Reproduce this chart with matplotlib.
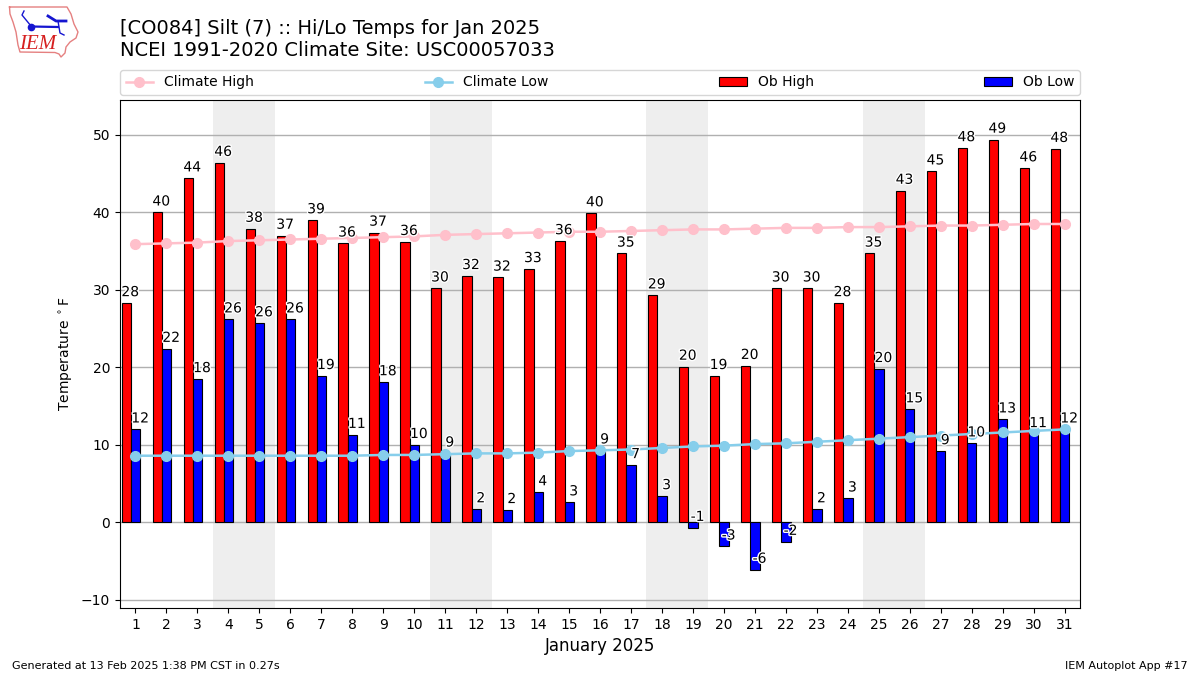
import matplotlib
matplotlib.use("Agg")
import matplotlib.pyplot as plt
import matplotlib.patheffects as pe

days = list(range(1, 32))
ob_high = [28.3, 40.0, 44.4, 46.4, 37.9, 37.0, 39.0, 36.0, 37.4, 36.2, 30.2,
           31.8, 31.6, 32.7, 36.3, 39.9, 34.7, 29.3, 20.1, 18.9, 20.2, 30.2,
           30.2, 28.3, 34.7, 42.8, 45.3, 48.3, 49.4, 45.7, 48.2]
ob_low = [12.0, 22.4, 18.5, 26.2, 25.7, 26.2, 18.9, 11.3, 18.1, 10.0, 8.9,
          1.7, 1.6, 3.9, 2.6, 9.3, 7.4, 3.4, -0.7, -3.1, -6.1, -2.5,
          1.7, 3.1, 19.8, 14.6, 9.2, 10.2, 13.3, 11.4, 12.0]
climate_high = [35.9, 36.0, 36.1, 36.3, 36.4, 36.5, 36.6, 36.7, 36.8, 36.9, 37.1,
                37.2, 37.3, 37.4, 37.5, 37.5, 37.6, 37.7, 37.8, 37.8, 37.9, 38.0,
                38.0, 38.1, 38.1, 38.2, 38.3, 38.3, 38.4, 38.5, 38.5]
climate_low = [8.6, 8.6, 8.6, 8.6, 8.6, 8.6, 8.6, 8.6, 8.7, 8.7, 8.8,
               8.9, 8.9, 9.0, 9.2, 9.3, 9.4, 9.6, 9.8, 9.9, 10.1, 10.2,
               10.4, 10.6, 10.8, 11.0, 11.2, 11.4, 11.6, 11.8, 12.0]
weekends = [4, 11, 18, 25]

W, H = 1200, 675
fig = plt.figure(figsize=(12, 6.75), dpi=100)
ax = fig.add_axes([120 / W, 1 - 608 / H, 960 / W, 508 / H])

for d in weekends:
    ax.axvspan(d - 0.5, d + 1.5, color="#eeeeee", zorder=0, lw=0)

ax.grid(True, axis="y", color="#b0b0b0", lw=1, zorder=1)
ax.set_axisbelow(True)

width = 0.3
red_x = [d - 0.445 for d in days]
blue_x = [d - 0.145 for d in days]
ax.bar(red_x, ob_high, width=width, align="edge", color="r", edgecolor="k",
       lw=0.8, label="Ob High", zorder=2)
ax.bar(blue_x, ob_low, width=width, align="edge", color="b", edgecolor="k",
       lw=0.8, label="Ob Low", zorder=2)
ax.plot(days, climate_high, color="pink", marker="o", ms=7, lw=1.8,
        label="Climate High", zorder=3)
ax.plot(days, climate_low, color="skyblue", marker="o", ms=7, lw=1.8,
        label="Climate Low", zorder=3)

# value labels sit just above the bar end
halo = [pe.withStroke(linewidth=2, foreground="white")]
for offset, vals in ((-0.17, ob_high), (0.15, ob_low)):
    for d, v in zip(days, vals):
        ax.text(d + offset, v + 0.5, f"{v:.0f}", ha="center", va="bottom",
                fontsize=10, color="k", path_effects=halo, zorder=4)

ax.set_xlim(0.5, 31.5)
ax.set_ylim(-11.05, 54.5)
ax.set_xticks(days)
ax.set_yticks(range(-10, 51, 10))
ax.set_xlabel("January 2025", fontsize=12)
ax.set_ylabel(r"Temperature $^\circ$F", fontsize=10)

handles, labels = ax.get_legend_handles_labels()
order = [labels.index(n) for n in ["Climate High", "Climate Low", "Ob High", "Ob Low"]]
ax.legend([handles[i] for i in order], [labels[i] for i in order], ncol=4,
          mode="expand", loc="lower left", bbox_to_anchor=(0, 1.01, 1, 0.05),
          borderaxespad=0, fontsize=10)

fig.text(120 / W, 1 - 29 / H, "[CO084] Silt (7) :: Hi/Lo Temps for Jan 2025",
         fontsize=14, va="center", ha="left")
fig.text(120 / W, 1 - 50.5 / H, "NCEI 1991-2020 Climate Site: USC00057033",
         fontsize=14, va="center", ha="left")
fig.text(12 / W, 1 - 666 / H, "Generated at 13 Feb 2025 1:38 PM CST in 0.27s",
         fontsize=8, va="center", ha="left")
fig.text(1188 / W, 1 - 666 / H, "IEM Autoplot App #17",
         fontsize=8, va="center", ha="right")

# IEM logo, sketched in pixel coordinates
logo = fig.add_axes([0, 1 - 62 / H, 90 / W, 62 / H])
logo.set_xlim(0, 90)
logo.set_ylim(62, 0)
logo.axis("off")
state_x = [9.5, 67, 71, 74, 78, 76, 70, 66, 65, 61, 59, 55, 20, 18, 16, 13, 10, 9.5]
state_y = [7, 7, 14, 24, 32, 38, 42, 47, 53, 57, 54, 52.5, 52, 45, 32, 22, 14, 7]
logo.plot(state_x, state_y, color="#e58080", lw=1)
logo.plot([31, 58], [26.5, 27], color="#1515d0", lw=1.6)
logo.plot([31, 22, 24], [26, 15, 11], color="#1515d0", lw=1)
logo.plot([31], [26.5], "o", color="#1515d0", ms=4.5)
logo.plot([48, 56, 66], [16, 21, 21], color="#1515d0", lw=2)
logo.plot([58, 60, 64], [21, 33, 35], color="#1515d0", lw=1)
logo.text(38, 44.5, "IEM", family="Liberation Serif", style="italic",
          color="#d62020", fontsize=15, ha="center", va="center")

fig.savefig("out.png", dpi=100)
